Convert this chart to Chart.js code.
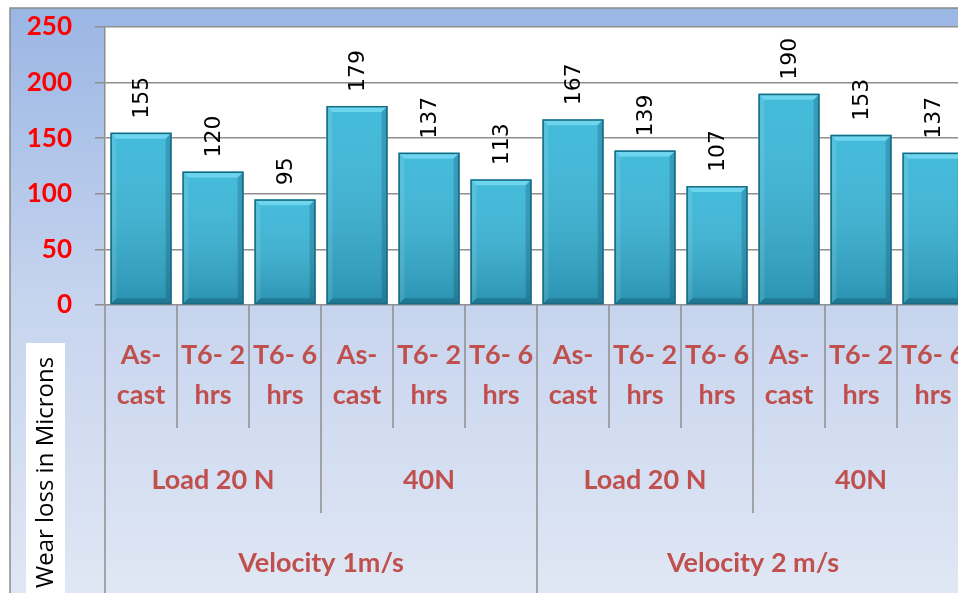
<!DOCTYPE html>
<html>
<head>
<meta charset="utf-8">
<script src="https://cdn.jsdelivr.net/npm/chart.js@4.4.1/dist/chart.umd.min.js"></script>
<style>
  html, body { margin: 0; padding: 0; background: #fff; overflow: hidden; }
  #wrap { width: 1000px; height: 593px; }
</style>
</head>
<body>
<div id="wrap"><canvas id="chart" width="1000" height="593"></canvas></div>
<script>
  // wear loss per sample, 3 treatments x 2 loads x 2 velocities
  const treatments = [['As-', 'cast'], ['T6- 2', 'hrs'], ['T6- 6', 'hrs']];
  const loads = ['Load 20 N', '40N', 'Load 20 N', '40N'];
  const velocities = ['Velocity 1m/s', 'Velocity 2 m/s'];
  const wearLoss = [155, 120, 95, 179, 137, 113, 167, 139, 107, 190, 153, 137];
  const yTicks = [0, 50, 100, 150, 200, 250];
  const yTitle = 'Wear loss in Microns';

  const categories = wearLoss.map((v, i) => treatments[i % treatments.length]);

  const RED_BROWN = '#c0504d';
  const GRID = '#8e8e8e';

  const bgPlugin = {
    id: 'bg',
    beforeDraw(chart) {
      const ctx = chart.ctx, a = chart.chartArea;
      ctx.save();
      ctx.fillStyle = '#fff';
      ctx.fillRect(0, 0, chart.width, chart.height);
      const g = ctx.createLinearGradient(0, 8, 0, chart.height);
      g.addColorStop(0, '#9ab6e4');
      g.addColorStop(0.5, '#c6d4ee');
      g.addColorStop(1, '#e0e7f4');
      ctx.fillStyle = g;
      ctx.fillRect(10, 8, chart.width - 10, chart.height - 8);
      ctx.strokeStyle = '#8a8a8a';
      ctx.lineWidth = 1.5;
      ctx.strokeRect(10, 8, chart.width, chart.height);
      ctx.fillStyle = '#fff';
      ctx.fillRect(a.left, a.top, a.right - a.left, a.bottom - a.top);
      ctx.restore();
    }
  };

  const barDeco = {
    id: 'barDeco',
    afterDatasetsDraw(chart) {
      const ctx = chart.ctx;
      const meta = chart.getDatasetMeta(0);
      ctx.save();
      meta.data.forEach((bar, i) => {
        const l = bar.x - bar.width / 2, r = bar.x + bar.width / 2;
        const t = bar.y, b = bar.base;
        const bv = 6;
        const g = ctx.createLinearGradient(0, t, 0, b);
        g.addColorStop(0, 'rgba(255,255,255,0.06)');
        g.addColorStop(1, 'rgba(0,40,60,0.25)');
        ctx.fillStyle = g;
        ctx.fillRect(l, t, r - l, b - t);
        // top bevel
        ctx.fillStyle = '#6dd5ee';
        ctx.beginPath();
        ctx.moveTo(l, t); ctx.lineTo(r, t); ctx.lineTo(r - bv, t + bv); ctx.lineTo(l + bv, t + bv); ctx.closePath();
        ctx.fill();
        // left bevel
        ctx.fillStyle = 'rgba(255,255,255,0.10)';
        ctx.beginPath();
        ctx.moveTo(l, t); ctx.lineTo(l + bv, t + bv); ctx.lineTo(l + bv, b - bv); ctx.lineTo(l, b); ctx.closePath();
        ctx.fill();
        // right bevel
        ctx.fillStyle = 'rgba(0,50,70,0.22)';
        ctx.beginPath();
        ctx.moveTo(r, t); ctx.lineTo(r - bv, t + bv); ctx.lineTo(r - bv, b - bv); ctx.lineTo(r, b); ctx.closePath();
        ctx.fill();
        // bottom bevel
        ctx.fillStyle = 'rgba(0,40,60,0.25)';
        ctx.beginPath();
        ctx.moveTo(l, b); ctx.lineTo(r, b); ctx.lineTo(r - bv, b - bv); ctx.lineTo(l + bv, b - bv); ctx.closePath();
        ctx.fill();
        ctx.strokeStyle = '#1a6a80';
        ctx.lineWidth = 1.5;
        ctx.strokeRect(l + 0.75, t + 0.75, r - l - 1.5, b - t - 1.5);
        // value label
        ctx.save();
        ctx.translate(bar.x, t - 14);
        ctx.rotate(-Math.PI / 2);
        ctx.fillStyle = '#000';
        ctx.font = '22px "DejaVu Sans"';
        ctx.textAlign = 'left';
        ctx.textBaseline = 'middle';
        ctx.fillText(String(wearLoss[i]), 0, 1);
        ctx.restore();
      });
      ctx.restore();
    }
  };

  const xLabels = {
    id: 'xLabels',
    afterDraw(chart) {
      const ctx = chart.ctx, x = chart.scales.x, a = chart.chartArea;
      const n = wearLoss.length;
      const edge = i => i === 0 ? x.left : (i === n ? x.right : (x.getPixelForValue(i - 1) + x.getPixelForValue(i)) / 2);
      const y0 = a.bottom;
      ctx.save();
      ctx.strokeStyle = GRID;
      ctx.lineWidth = 1.5;
      for (let i = 0; i <= n; i++) {
        let yEnd = y0 + 123;
        if (i % 3 === 0) yEnd = y0 + 208;
        if (i % 6 === 0) yEnd = chart.height;
        ctx.beginPath();
        ctx.moveTo(edge(i), y0);
        ctx.lineTo(edge(i), yEnd);
        ctx.stroke();
      }
      ctx.fillStyle = RED_BROWN;
      ctx.textAlign = 'center';
      ctx.textBaseline = 'middle';
      ctx.font = 'bold 27px Lato';
      categories.forEach((lab, i) => {
        const cx = x.getPixelForValue(i);
        ctx.fillText(lab[0], cx, y0 + 50);
        ctx.fillText(lab[1], cx, y0 + 90);
      });
      loads.forEach((lab, j) => {
        const cx = (edge(j * 3) + edge(j * 3 + 3)) / 2;
        ctx.fillText(lab, cx, y0 + 175);
      });
      velocities.forEach((lab, j) => {
        const cx = (edge(j * 6) + edge(j * 6 + 6)) / 2;
        ctx.fillText(lab, cx, y0 + 258);
      });
      // y axis title box
      ctx.fillStyle = '#fff';
      ctx.fillRect(26, 343, 39, chart.height - 343);
      ctx.translate(46, 588);
      ctx.rotate(-Math.PI / 2);
      ctx.fillStyle = '#000';
      ctx.font = '24px "Open Sans"';
      ctx.textAlign = 'left';
      ctx.fillText(yTitle, 0, 0);
      ctx.restore();
    }
  };

  new Chart(document.getElementById('chart'), {
    type: 'bar',
    data: {
      labels: categories,
      datasets: [{
        data: wearLoss,
        backgroundColor: '#38b6d8',
        borderWidth: 0,
        barPercentage: 0.85,
        categoryPercentage: 1
      }]
    },
    options: {
      responsive: false,
      animation: false,
      devicePixelRatio: 1,
      layout: { padding: { top: 27, right: 31, left: 0, bottom: 0 } },
      plugins: { legend: { display: false }, tooltip: { enabled: false } },
      scales: {
        x: {
          ticks: { display: false },
          grid: { display: false },
          border: { display: false },
          afterFit(s) { s.height = 288; }
        },
        y: {
          min: 0,
          max: 250,
          afterBuildTicks(s) { s.ticks = yTicks.map(v => ({ value: v })); },
          ticks: { color: '#ff0000', font: { family: 'Lato', size: 26, weight: 'bold' }, padding: 23 },
          grid: { color: GRID, lineWidth: 1.5, tickLength: 10 },
          border: { color: GRID, width: 1.5 },
          afterFit(s) { s.width = 105; s.paddingTop = 0; s.paddingBottom = 0; }
        }
      }
    },
    plugins: [bgPlugin, barDeco, xLabels]
  });
</script>
</body>
</html>
